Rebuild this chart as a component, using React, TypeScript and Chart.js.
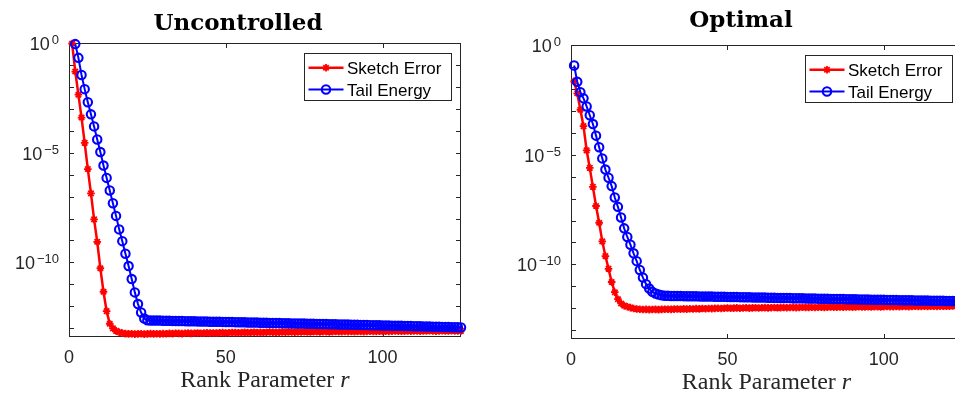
import React, { useEffect, useRef } from "react";
import { Chart, registerables } from "chart.js";

Chart.register(...registerables);

// ---------- data ----------
const ranks: number[] = Array.from({ length: 125 }, (_, i) => i + 1);
const xTicks = [0, 50, 100];
const yLabelExponents = [0, -5, -10];
const yTickExponents = [0, -1, -2, -3, -4, -5, -6, -7, -8, -9, -10, -11, -12, -13];
const X_MIN = 0;
const X_MAX = 125;
const Y_MIN = 3.98e-14;
const Y_MAX = 1;
const seriesNames = ["Sketch Error", "Tail Energy"];
const titles = ["Uncontrolled", "Optimal"];
const xAxisLabel = "Rank Parameter ";
const xAxisLabelItalic = "r";

const uncontrolledSketch: (number | null)[] = [
  9.5e-1, 5.0e-2, 4.4e-3, 4.0e-4, 2.8e-5, 1.8e-6, 1.4e-7, 9.1e-9, 8.7e-10, 5.4e-11,
  4.6e-12, 6.0e-13, 1.6e-13, 9.8e-14, 7.6e-14, 6.6e-14, 6.0e-14,
  5.7e-14, 5.5e-14, 5.6e-14, 5.4e-14, 5.5e-14, 5.6e-14, 5.4e-14, 5.5e-14, 5.7e-14, 5.5e-14, 5.6e-14, 5.5e-14, 5.7e-14,
  5.6e-14, 5.8e-14, 5.7e-14, 5.9e-14, 5.8e-14, 5.7e-14, 5.9e-14, 6.0e-14, 5.8e-14, 5.9e-14,
  6.1e-14, 5.9e-14, 6.0e-14, 6.2e-14, 6.0e-14, 6.1e-14, 6.0e-14, 6.2e-14, 6.3e-14, 6.1e-14,
  6.2e-14, 6.4e-14, 6.3e-14, 6.2e-14, 6.4e-14, 6.5e-14, 6.3e-14, 6.4e-14, 6.6e-14, 6.4e-14,
  6.5e-14, 6.4e-14, 6.6e-14, 6.7e-14, 6.5e-14, 6.6e-14, 6.5e-14, 6.7e-14, 6.6e-14, 6.8e-14,
  6.7e-14, 6.6e-14, 6.8e-14, 6.7e-14, 6.9e-14, 6.8e-14, 6.7e-14, 6.9e-14, 7.0e-14, 6.8e-14,
  6.9e-14, 7.0e-14, 6.8e-14, 7.0e-14, 7.1e-14, 6.9e-14, 7.0e-14, 7.2e-14, 7.0e-14, 7.1e-14,
  7.0e-14, 7.2e-14, 7.1e-14, 7.0e-14, 7.2e-14, 7.3e-14, 7.1e-14, 7.2e-14, 7.4e-14, 7.2e-14,
  7.3e-14, 7.2e-14, 7.4e-14, 7.5e-14, 7.3e-14, 7.4e-14, 7.3e-14, 7.5e-14, 7.4e-14, 7.6e-14,
  7.5e-14, 7.4e-14, 7.6e-14, 7.5e-14, 7.7e-14, 7.5e-14, 7.4e-14, 7.6e-14, 7.7e-14, 7.5e-14,
  7.6e-14, 7.7e-14, 7.6e-14, 7.5e-14, 7.6e-14,
];

const uncontrolledTail: (number | null)[] = [
  null, 8.9e-1, 2.1e-1, 3.5e-2, 7.9e-3, 2.0e-3, 5.6e-4, 1.58e-4, 4.0e-5, 1.07e-5,
  2.6e-6, 7.1e-7, 1.9e-7, 5.0e-8, 1.32e-8, 3.2e-9, 9.3e-10, 2.5e-10, 6.8e-11, 1.74e-11,
  4.3e-12, 1.26e-12, 5.2e-13, 2.75e-13, 2.3e-13,
  2.26e-13, 2.25e-13, 2.23e-13, 2.22e-13, 2.20e-13, 2.19e-13, 2.17e-13, 2.16e-13, 2.14e-13, 2.13e-13,
  2.12e-13, 2.10e-13, 2.09e-13, 2.07e-13, 2.06e-13, 2.05e-13, 2.03e-13, 2.02e-13, 2.00e-13, 1.99e-13,
  1.98e-13, 1.96e-13, 1.95e-13, 1.94e-13, 1.92e-13, 1.91e-13, 1.90e-13, 1.89e-13, 1.87e-13, 1.86e-13,
  1.85e-13, 1.83e-13, 1.82e-13, 1.81e-13, 1.80e-13, 1.78e-13, 1.77e-13, 1.76e-13, 1.75e-13, 1.73e-13,
  1.72e-13, 1.71e-13, 1.70e-13, 1.69e-13, 1.67e-13, 1.66e-13, 1.65e-13, 1.64e-13, 1.63e-13, 1.62e-13,
  1.60e-13, 1.59e-13, 1.58e-13, 1.57e-13, 1.56e-13, 1.55e-13, 1.54e-13, 1.52e-13, 1.51e-13, 1.50e-13,
  1.49e-13, 1.48e-13, 1.47e-13, 1.46e-13, 1.45e-13, 1.44e-13, 1.43e-13, 1.42e-13, 1.40e-13, 1.39e-13,
  1.38e-13, 1.37e-13, 1.36e-13, 1.35e-13, 1.34e-13, 1.33e-13, 1.32e-13, 1.31e-13, 1.30e-13, 1.29e-13,
  1.28e-13, 1.27e-13, 1.26e-13, 1.25e-13, 1.24e-13, 1.23e-13, 1.22e-13, 1.21e-13, 1.20e-13, 1.19e-13,
  1.18e-13, 1.17e-13, 1.16e-13, 1.15e-13, 1.14e-13, 1.13e-13, 1.12e-13, 1.11e-13, 1.10e-13, 1.09e-13,
];

const optimalSketch: (number | null)[] = [
  2.2e-2, 6.3e-3, 1.12e-3, 2.0e-4, 1.58e-5, 2.5e-6, 3.4e-7, 4.6e-8, 7.9e-9, 1.12e-9,
  2.4e-10, 6.3e-11, 1.58e-11, 5.4e-12, 2.6e-12, 1.66e-12, 1.32e-12, 1.17e-12, 1.07e-12, 9.8e-13,
  9.3e-13, 9.0e-13, 8.8e-13, 8.9e-13, 8.7e-13, 8.8e-13, 8.9e-13, 8.7e-13, 8.9e-13, 9.0e-13,
  9.1e-13, 8.9e-13, 9.2e-13, 9.3e-13, 9.1e-13, 9.4e-13, 9.2e-13, 9.5e-13, 9.3e-13, 9.6e-13,
  9.4e-13, 9.7e-13, 9.5e-13, 9.8e-13, 9.6e-13,
  9.9e-13, 1.0e-12, 9.8e-13, 1.01e-12, 1.03e-12, 1.0e-12, 1.02e-12, 1.04e-12, 1.01e-12, 1.03e-12,
  1.05e-12, 1.02e-12, 1.04e-12, 1.06e-12, 1.03e-12, 1.05e-12, 1.07e-12, 1.04e-12, 1.06e-12, 1.08e-12,
  1.05e-12, 1.07e-12, 1.09e-12, 1.06e-12, 1.08e-12,
  1.1e-12, 1.07e-12, 1.09e-12, 1.11e-12, 1.08e-12, 1.1e-12, 1.12e-12, 1.09e-12, 1.11e-12, 1.13e-12,
  1.1e-12, 1.12e-12, 1.14e-12, 1.11e-12, 1.13e-12, 1.15e-12, 1.12e-12, 1.14e-12, 1.16e-12, 1.13e-12,
  1.15e-12, 1.17e-12, 1.14e-12, 1.16e-12, 1.18e-12, 1.15e-12, 1.17e-12, 1.19e-12, 1.16e-12, 1.18e-12,
  1.2e-12, 1.17e-12, 1.19e-12, 1.21e-12, 1.18e-12, 1.2e-12, 1.22e-12, 1.19e-12, 1.21e-12, 1.23e-12,
  1.2e-12, 1.22e-12, 1.24e-12, 1.21e-12, 1.23e-12, 1.25e-12, 1.22e-12, 1.24e-12, 1.26e-12, 1.23e-12,
  1.25e-12, 1.27e-12, 1.24e-12, 1.26e-12, 1.25e-12,
];

const optimalTail: (number | null)[] = [
  1.17e-1, 2.1e-2, 7.1e-3, 3.7e-3, 1.58e-3, 6.3e-4, 2.5e-4, 7.4e-5, 2.2e-5, 6.8e-6,
  2.1e-6, 8.9e-7, 3.7e-7, 1.12e-7, 4.2e-8, 1.38e-8, 4.4e-9, 1.78e-9, 7.9e-10, 3.2e-10,
  1.41e-10, 5.6e-11, 2.5e-11, 1.26e-11, 7.9e-12, 5.6e-12, 4.7e-12, 4.2e-12, 3.9e-12, 3.7e-12,
  3.68e-12, 3.66e-12, 3.64e-12, 3.62e-12, 3.60e-12, 3.58e-12, 3.56e-12, 3.54e-12, 3.52e-12, 3.50e-12,
  3.48e-12, 3.46e-12, 3.44e-12, 3.42e-12, 3.40e-12, 3.38e-12, 3.36e-12, 3.34e-12, 3.32e-12, 3.30e-12,
  3.28e-12, 3.26e-12, 3.24e-12, 3.22e-12, 3.20e-12, 3.18e-12, 3.16e-12, 3.14e-12, 3.12e-12, 3.10e-12,
  3.08e-12, 3.06e-12, 3.04e-12, 3.02e-12, 3.00e-12, 2.98e-12, 2.96e-12, 2.94e-12, 2.93e-12, 2.91e-12,
  2.89e-12, 2.87e-12, 2.85e-12, 2.84e-12, 2.82e-12, 2.80e-12, 2.78e-12, 2.77e-12, 2.75e-12, 2.73e-12,
  2.72e-12, 2.70e-12, 2.68e-12, 2.67e-12, 2.65e-12, 2.64e-12, 2.62e-12, 2.60e-12, 2.59e-12, 2.57e-12,
  2.56e-12, 2.54e-12, 2.53e-12, 2.51e-12, 2.50e-12, 2.48e-12, 2.47e-12, 2.45e-12, 2.44e-12, 2.42e-12,
  2.41e-12, 2.40e-12, 2.38e-12, 2.37e-12, 2.35e-12, 2.34e-12, 2.33e-12, 2.31e-12, 2.30e-12, 2.29e-12,
  2.28e-12, 2.26e-12, 2.25e-12, 2.24e-12, 2.23e-12, 2.21e-12, 2.20e-12, 2.19e-12, 2.18e-12, 2.17e-12,
  2.16e-12, 2.15e-12, 2.14e-12, 2.13e-12, 2.12e-12,
];

// ---------- styles ----------
const RED = "#ff0000";
const BLUE = "#0000ff";
const AXIS = "#262626";
const SANS = '"Liberation Sans", Arial, Helvetica, sans-serif';
const SERIF = '"Liberation Serif", "Times New Roman", serif';
const TITLE_FONT = 'bold 23px "DejaVu Serif", serif';
const STAR_R = 3.8;
const STAR_W = 1.8;
const CIRCLE_R = 4.2;
const CIRCLE_W = 2.1;

type PanelOpts = {
  id: string;
  title: string;
  titleX: number;
  titleY: number;
};

function drawStar(ctx: CanvasRenderingContext2D, x: number, y: number, r: number) {
  ctx.beginPath();
  ctx.moveTo(x - r, y);
  ctx.lineTo(x + r, y);
  ctx.moveTo(x, y - r);
  ctx.lineTo(x, y + r);
  const d = r * Math.SQRT1_2;
  ctx.moveTo(x - d, y - d);
  ctx.lineTo(x + d, y + d);
  ctx.moveTo(x - d, y + d);
  ctx.lineTo(x + d, y - d);
  ctx.stroke();
}

function makeDecor(o: PanelOpts) {
  return {
    id: "decor_" + o.id,
    beforeDatasetsDraw(chart: any) {
      const ctx: CanvasRenderingContext2D = chart.ctx;
      const a = chart.chartArea;
      const xs = chart.scales.x;
      const ys = chart.scales.y;
      ctx.save();
      ctx.strokeStyle = AXIS;
      ctx.lineWidth = 1;
      ctx.strokeRect(a.left + 0.5, a.top + 0.5, a.right - a.left - 1, a.bottom - a.top - 1);
      ctx.beginPath();
      for (const e of yTickExponents) {
        const y = Math.round(ys.getPixelForValue(Math.pow(10, e))) + 0.5;
        ctx.moveTo(a.left, y);
        ctx.lineTo(a.left + 5, y);
        ctx.moveTo(a.right, y);
        ctx.lineTo(a.right - 5, y);
      }
      for (const t of xTicks) {
        const x = Math.round(xs.getPixelForValue(t)) + 0.5;
        ctx.moveTo(x, a.bottom);
        ctx.lineTo(x, a.bottom - 5);
        ctx.moveTo(x, a.top);
        ctx.lineTo(x, a.top + 5);
      }
      ctx.stroke();
      ctx.restore();
    },
    afterDraw(chart: any) {
      const ctx: CanvasRenderingContext2D = chart.ctx;
      const a = chart.chartArea;
      const xs = chart.scales.x;
      const ys = chart.scales.y;
      ctx.save();
      ctx.fillStyle = AXIS;
      // x tick labels
      ctx.font = "18px " + SANS;
      ctx.textAlign = "center";
      ctx.textBaseline = "alphabetic";
      for (const t of xTicks) {
        ctx.fillText(String(t), xs.getPixelForValue(t), a.bottom + 26);
      }
      // y tick labels 10^e
      ctx.textAlign = "left";
      for (const e of yLabelExponents) {
        const y = ys.getPixelForValue(Math.pow(10, e));
        const sup = e < 0 ? "\u2212" + String(-e) : String(e);
        ctx.font = "13px " + SANS;
        const ws = ctx.measureText(sup).width;
        ctx.font = "18px " + SANS;
        const wb = ctx.measureText("10").width;
        const right = a.left - 10;
        ctx.fillText("10", right - ws - 2 - wb, y + 7);
        ctx.font = "13px " + SANS;
        ctx.fillText(sup, right - ws, y + 1);
      }
      // x axis label
      ctx.font = "24px " + SERIF;
      const w1 = ctx.measureText(xAxisLabel).width;
      ctx.font = "italic 24px " + SERIF;
      const w2 = ctx.measureText(xAxisLabelItalic).width;
      const cx = (a.left + a.right) / 2;
      const sx = cx - (w1 + w2) / 2;
      ctx.font = "24px " + SERIF;
      ctx.fillText(xAxisLabel, sx, a.bottom + 49.5);
      ctx.font = "italic 24px " + SERIF;
      ctx.fillText(xAxisLabelItalic, sx + w1, a.bottom + 49.5);
      // title
      ctx.fillStyle = "#000";
      ctx.font = TITLE_FONT;
      ctx.textAlign = "center";
      ctx.fillText(o.title, o.titleX, o.titleY);
      // legend
      const bw = 147;
      const bh = 47;
      const bx = Math.round(a.right - 10.5 - bw) + 0.5;
      const by = Math.round(a.top + 9.5) + 0.5;
      ctx.fillStyle = "#fff";
      ctx.fillRect(bx, by, bw, bh);
      ctx.strokeStyle = AXIS;
      ctx.lineWidth = 1;
      ctx.strokeRect(bx, by, bw, bh);
      const rows = [
        { name: seriesNames[0], color: RED, y: by + 14.3, lw: 2.5, star: true },
        { name: seriesNames[1], color: BLUE, y: by + 36, lw: 2, star: false },
      ];
      for (const r of rows) {
        ctx.strokeStyle = r.color;
        ctx.lineWidth = r.lw;
        ctx.beginPath();
        ctx.moveTo(bx + 4, r.y);
        ctx.lineTo(bx + 39, r.y);
        ctx.stroke();
        const mx = bx + 21.5;
        if (r.star) {
          ctx.lineWidth = STAR_W;
          drawStar(ctx, mx, r.y, STAR_R);
        } else {
          ctx.lineWidth = CIRCLE_W;
          ctx.beginPath();
          ctx.arc(mx, r.y, CIRCLE_R, 0, Math.PI * 2);
          ctx.stroke();
        }
        ctx.fillStyle = "#000";
        ctx.font = "17px " + SANS;
        ctx.textAlign = "left";
        ctx.fillText(r.name, bx + 42.5, r.y + 6);
      }
      ctx.restore();
    },
  };
}

function buildChart(
  canvas: HTMLCanvasElement,
  sketch: (number | null)[],
  tail: (number | null)[],
  padding: { left: number; right: number; top: number; bottom: number },
  o: PanelOpts
) {
  return new Chart(canvas, {
    type: "line",
    data: {
      datasets: [
        {
          label: seriesNames[0],
          data: ranks.map((r, i) => ({ x: r, y: sketch[i] })) as any,
          borderColor: RED,
          backgroundColor: RED,
          borderWidth: 2.5,
          pointStyle: "star",
          pointRadius: STAR_R,
          pointBorderWidth: STAR_W,
          pointBorderColor: RED,
          pointBackgroundColor: RED,
          tension: 0,
          order: 2,
          clip: false as any,
        },
        {
          label: seriesNames[1],
          data: ranks.map((r, i) => ({ x: r, y: tail[i] })) as any,
          borderColor: BLUE,
          backgroundColor: BLUE,
          borderWidth: 2,
          pointStyle: "circle",
          pointRadius: CIRCLE_R,
          pointBorderWidth: CIRCLE_W,
          pointBorderColor: BLUE,
          pointBackgroundColor: "rgba(0,0,0,0)",
          tension: 0,
          order: 1,
          clip: false as any,
        },
      ],
    },
    options: {
      responsive: false,
      animation: false,
      devicePixelRatio: 1,
      events: [],
      layout: { padding },
      plugins: {
        legend: { display: false },
        tooltip: { enabled: false },
        title: { display: false },
      },
      scales: {
        x: { type: "linear", min: X_MIN, max: X_MAX, display: false },
        y: { type: "logarithmic", min: Y_MIN, max: Y_MAX, display: false },
      },
    },
    plugins: [makeDecor(o)],
  });
}

export default function App() {
  const c1 = useRef<HTMLCanvasElement>(null);
  const c2 = useRef<HTMLCanvasElement>(null);
  useEffect(() => {
    const a = buildChart(
      c1.current!,
      uncontrolledSketch,
      uncontrolledTail,
      { left: 69, right: 19, top: 43, bottom: 57 },
      { id: "u", title: titles[0], titleX: 238, titleY: 30 }
    );
    const b = buildChart(
      c2.current!,
      optimalSketch,
      optimalTail,
      { left: 91, right: 18, top: 45, bottom: 55 },
      { id: "o", title: titles[1], titleX: 261, titleY: 27 }
    );
    return () => {
      a.destroy();
      b.destroy();
    };
  }, []);
  return (
    <div
      style={{
        position: "fixed",
        left: 0,
        top: 0,
        width: 955,
        height: 394,
        overflow: "hidden",
        background: "#fff",
      }}
    >
      <canvas
        ref={c1}
        width={480}
        height={394}
        style={{ position: "absolute", left: 0, top: 0, width: 480, height: 394 }}
      />
      <canvas
        ref={c2}
        width={500}
        height={394}
        style={{ position: "absolute", left: 480, top: 0, width: 500, height: 394 }}
      />
    </div>
  );
}
